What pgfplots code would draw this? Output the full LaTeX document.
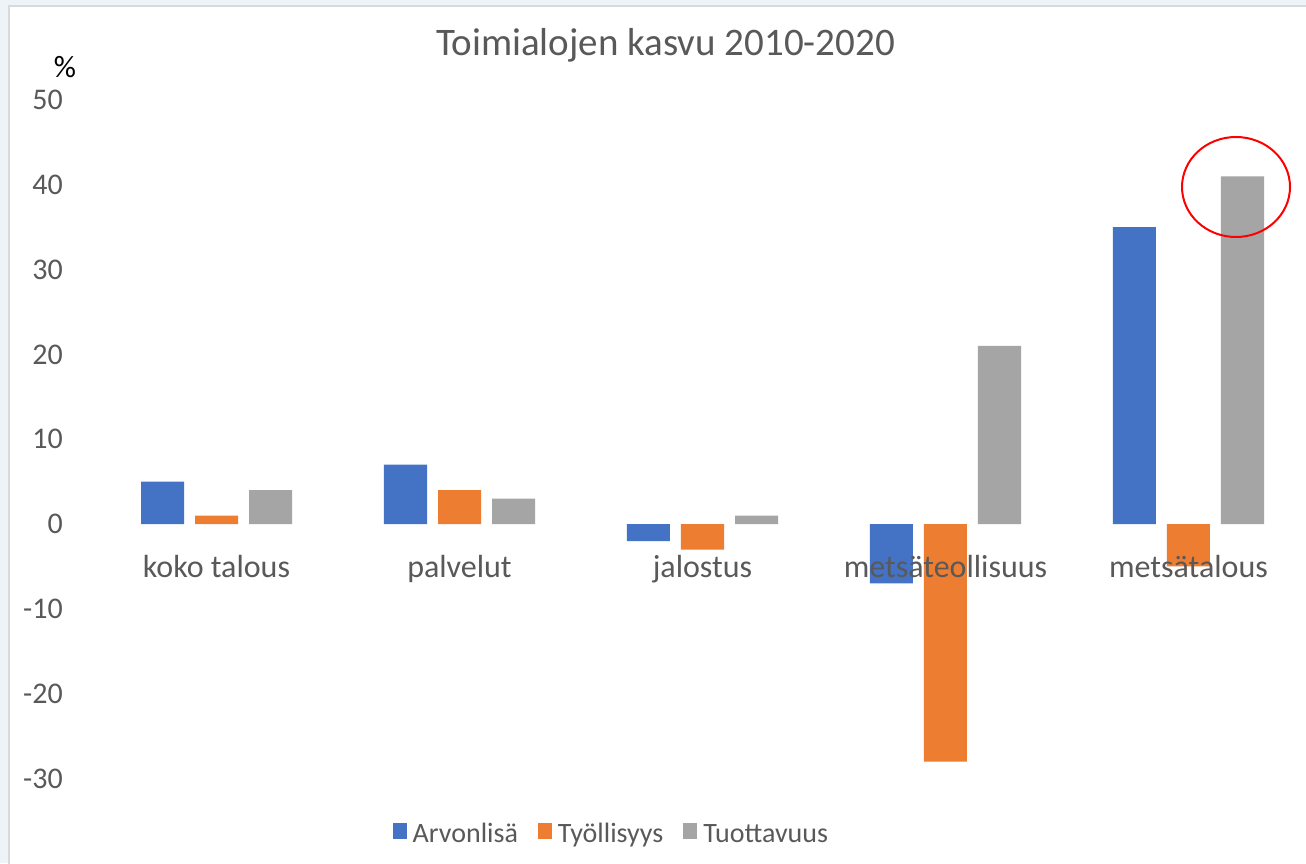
\documentclass[border=0pt]{standalone}
\usepackage{fontspec}
\setmainfont{Carlito}
\usepackage{pgfplots}
\pgfplotsset{compat=1.18}

\definecolor{cblue}{HTML}{4472C4}
\definecolor{corange}{HTML}{ED7D31}
\definecolor{cgray}{HTML}{A5A5A5}
\definecolor{txt}{HTML}{595959}
\definecolor{gridc}{HTML}{D9D9D9}
\definecolor{outerbg}{HTML}{EEF3F8}

% tick labels above the bars, grid below
\pgfplotsset{
  layers/labelsontop/.define layer set={
    axis background,axis grid,axis ticks,axis lines,pre main,main,axis tick labels,axis descriptions,axis foreground
  }{
    grid style={/pgfplots/on layer=axis grid},
    tick style={/pgfplots/on layer=axis ticks},
    axis line style={/pgfplots/on layer=axis lines},
    label style={/pgfplots/on layer=axis descriptions},
    legend style={/pgfplots/on layer=axis descriptions},
    title style={/pgfplots/on layer=axis descriptions},
    ticklabel style={/pgfplots/on layer=axis tick labels},
    axis background@ style={/pgfplots/on layer=axis background},
  },
  sq/.style={legend image code/.code={\fill[##1] (0pt,-5pt) rectangle (14pt,11pt);}},
}

\begin{document}
\begin{tikzpicture}
\fill[outerbg] (0pt,0pt) rectangle (1306pt,863pt);
\filldraw[fill=white, draw=gridc, line width=1.5pt] (9pt,-10pt) rectangle (1330pt,857pt);

\begin{axis}[
  set layers=labelsontop,
  at={(95pt,84.5pt)}, anchor=south west,
  scale only axis, width=1215pt, height=678.5pt,
  xmin=-0.5, xmax=4.5, ymin=-30, ymax=50,
  ybar=11pt, bar width=43pt,
  xtick={0,1,2,3,4},
  xticklabels={koko talous,palvelut,jalostus,metsäteollisuus,metsätalous},
  ytick={-30,-20,-10,0,10,20,30,40,50},
  ymajorgrids, grid style={gridc, line width=1.5pt},
  axis line style={draw=none},
  major tick length=0pt,
  tick label style={text=txt, font=\fontsize{30}{36}\selectfont},
  xticklabel style={anchor=base, yshift=201.5pt, font=\fontsize{32}{38}\selectfont},
  yticklabel style={anchor=east, inner sep=0pt, xshift=-32pt},
  /pgf/number format/assume math mode=true,
  legend style={at={(axis description cs:0.425,-0.0818)}, anchor=center,
    draw=none, fill=none, legend columns=3, text=txt,
    font=\fontsize{28}{33}\selectfont,
    /tikz/every odd column/.append style={column sep=4pt},
    /tikz/every even column/.append style={column sep=18pt}},
  legend cell align=left,
]
\addplot[fill=cblue, draw=none, sq] coordinates {(0,5) (1,7) (2,-2) (3,-7) (4,35)};
\addlegendentry{Arvonlisä}
\addplot[fill=corange, draw=none, sq] coordinates {(0,1) (1,4) (2,-3) (3,-28) (4,-5)};
\addlegendentry{Työllisyys}
\addplot[fill=cgray, draw=none, sq] coordinates {(0,4) (1,3) (2,1) (3,21) (4,41)};
\addlegendentry{Tuottavuus}
\end{axis}

\node[text=txt, font=\fontsize{39}{46}\selectfont] at (665.5pt,818pt) {Toimialojen kasvu 2010-2020};
\node[font=\fontsize{31}{36}\selectfont] at (65pt,796pt) {\%};
\draw[red, line width=2pt] (1236pt,676pt) ellipse [x radius=54pt, y radius=50pt];
\pgfresetboundingbox
\useasboundingbox (0pt,0pt) rectangle (1306pt,863pt);
\end{tikzpicture}
\end{document}
